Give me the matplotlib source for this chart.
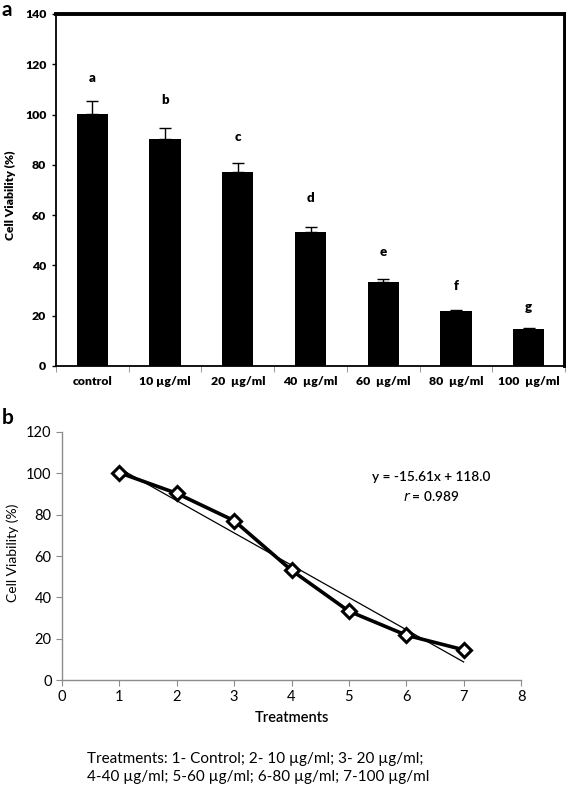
import matplotlib
matplotlib.use("Agg")
import matplotlib.pyplot as plt
import numpy as np

plt.rcParams['font.family'] = ['Lato', 'DejaVu Sans']

# ---- data ----
categories = ["control", "10 µg/ml", "20  µg/ml", "40  µg/ml", "60  µg/ml", "80  µg/ml", "100  µg/ml"]
viability = [100.3, 90.3, 77.1, 53.1, 33.3, 21.7, 14.6]
errors = [5.0, 4.5, 3.6, 2.3, 1.3, 0.7, 0.5]
letters = ["a", "b", "c", "d", "e", "f", "g"]
letter_offset = [9.4, 10.8, 10.4, 11.6, 10.6, 9.5, 8.2]

treatments = [1, 2, 3, 4, 5, 6, 7]
slope, intercept = -15.61, 118.0
eq_text = "y = -15.61x + 118.0"
r_text = "$r$ = 0.989"
footnote = ("Treatments: 1- Control; 2- 10 µg/ml; 3- 20 µg/ml;\n"
            "4-40 µg/ml; 5-60 µg/ml; 6-80 µg/ml; 7-100 µg/ml")

W, H = 566, 792
fig = plt.figure(figsize=(W / 100, H / 100), dpi=100)

# ---- panel a ----
ax1 = fig.add_axes([56 / W, 1 - 366 / H, 509 / W, 352 / H])
x = np.arange(len(categories))
ax1.bar(x, viability, width=0.43, color='black', zorder=2)
ax1.errorbar(x, viability, yerr=[np.zeros(len(errors)), errors], fmt='none',
             ecolor='black', elinewidth=1.0, capsize=4, capthick=1.0, zorder=3)
for xi, v, e, l, o in zip(x, viability, errors, letters, letter_offset):
    ax1.text(xi, v + e + o, l, ha='center', va='center', fontsize=9.5, fontweight='heavy')
ax1.set_xlim(-0.5, len(categories) - 0.5)
ax1.set_ylim(0, 140)
ax1.set_yticks(np.arange(0, 141, 20))
ax1.set_xticks(x)
ax1.set_xticklabels(categories)
ax1.set_xticks(np.arange(-0.5, len(categories), 1.0), minor=True)
ax1.tick_params(axis='x', which='major', length=0, pad=7, labelsize=8.8)
ax1.tick_params(axis='x', which='minor', length=4, color='#888888', direction='out')
ax1.tick_params(axis='y', length=3, width=1, labelsize=8.8, pad=4)
for lab in ax1.get_xticklabels() + ax1.get_yticklabels():
    lab.set_fontweight('heavy')
for s in ['left', 'bottom']:
    ax1.spines[s].set_linewidth(1.3)
for s in ['top', 'right']:
    ax1.spines[s].set_linewidth(2.8)
ax1.set_ylabel("Cell Viability (%)", fontsize=8.7, fontweight='heavy')
ax1.yaxis.set_label_coords(16 / W, 1 - 195 / H, transform=fig.transFigure)
fig.text(2 / W, 1 - 10 / H, "a", fontsize=15, fontweight='bold', va='center', ha='left')

# ---- panel b ----
ax2 = fig.add_axes([62 / W, 1 - 680 / H, 459 / W, 248 / H])
tx = np.array(treatments, dtype=float)
ax2.plot(tx, slope * tx + intercept, color='black', lw=0.9, zorder=2)
ax2.plot(tx, viability, color='black', lw=2.6, marker='D', markersize=7,
         markerfacecolor='white', markeredgecolor='black', markeredgewidth=2.2, zorder=3)
ax2.set_xlim(0, 8)
ax2.set_ylim(0, 120)
ax2.set_xticks(np.arange(0, 9, 1))
ax2.set_yticks(np.arange(0, 121, 20))
for s in ['top', 'right']:
    ax2.spines[s].set_visible(False)
for s in ['left', 'bottom']:
    ax2.spines[s].set_color('#8c8c8c')
    ax2.spines[s].set_linewidth(1.0)
ax2.tick_params(axis='both', length=4, color='#8c8c8c', labelsize=10.5)
ax2.set_xlabel("Treatments", fontsize=10.5, fontweight='semibold', labelpad=5)
ax2.set_ylabel("Cell Viability (%)", fontsize=10)
ax2.yaxis.set_label_coords(19 / W, 1 - 553 / H, transform=fig.transFigure)
ax2.text(431 / W, 1 - 477 / H, eq_text, transform=fig.transFigure, ha='center', va='center',
         fontsize=9.8, fontweight='semibold')
ax2.text(431 / W, 1 - 496 / H, r_text, transform=fig.transFigure, ha='center', va='center',
         fontsize=9.8, fontweight='semibold')
fig.text(2 / W, 1 - 418 / H, "b", fontsize=15, fontweight='bold', va='center', ha='left')

fig.text(87 / W, 1 - 768 / H, footnote, fontsize=11, ha='left', va='center', linespacing=1.3)

fig.savefig("out.png", dpi=100)
